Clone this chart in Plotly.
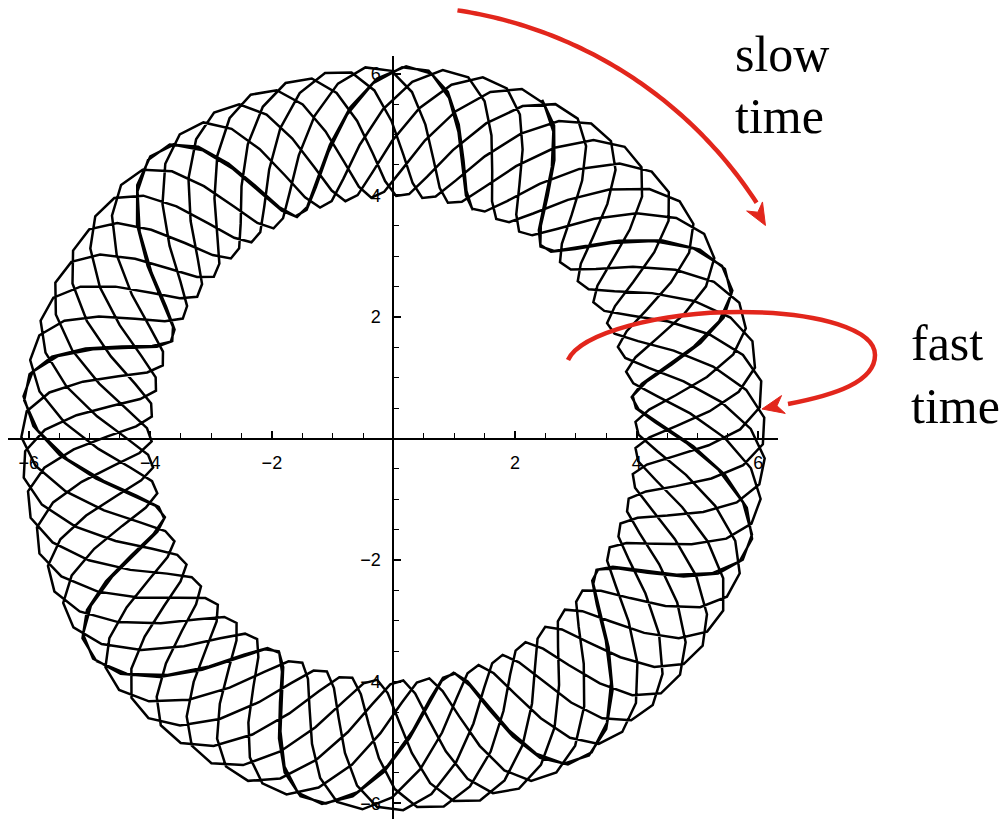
import numpy as np
import plotly.graph_objects as go

# Orbit: slow clockwise drift of the guiding centre around a circle, with a
# fast oscillation about it (radial swing plus a smaller along-track swing)
GUIDE_RADIUS = 5.05       # radius of the slow circular motion
RADIAL_AMP = 1.08         # radial amplitude of the fast oscillation
ALONG_AMP = 0.22          # along-track amplitude of the fast oscillation
ALONG_LAG = 0.5           # phase lag of the along-track swing (rad)
SLOW_TURNS = 8.0          # slow revolutions drawn
FAST_PER_TURN = 8.4296    # fast cycles per slow revolution
SAMPLES_PER_FAST = 12     # coarse sampling per fast cycle (polygonal look)
START_ANGLE = 1.2
FAST_PHASE = 0.3

# Axis ticks
TICK_VALUES = [-6, -4, -2, 2, 4, 6]
TICK_LABELS = ["\u22126", "\u22124", "\u22122", "2", "4", "6"]

X_RANGE = [-6.34, 6.324]
Y_RANGE = [-6.258, 6.291]

n = int(SLOW_TURNS * FAST_PER_TURN * SAMPLES_PER_FAST) + 1
theta = np.linspace(0.0, 2 * np.pi * SLOW_TURNS, n)
psi = FAST_PER_TURN * theta + FAST_PHASE
radial = GUIDE_RADIUS + RADIAL_AMP * np.cos(psi)
along = ALONG_AMP * np.cos(psi - ALONG_LAG)
ang = START_ANGLE - theta - along / GUIDE_RADIUS
x = radial * np.cos(ang)
y = radial * np.sin(ang)

fig = go.Figure()
fig.add_trace(go.Scatter(x=x, y=y, mode="lines",
                         line=dict(color="black", width=2.5),
                         hoverinfo="skip", showlegend=False))


def to_paper(px, py):
    """Convert data coordinates to paper coordinates of the plot area."""
    xp = (np.asarray(px) - X_RANGE[0]) / (X_RANGE[1] - X_RANGE[0])
    yp = (np.asarray(py) - Y_RANGE[0]) / (Y_RANGE[1] - Y_RANGE[0])
    return xp, yp


def polyline_path(px, py):
    xp, yp = to_paper(px, py)
    return "M " + " L ".join(f"{a:.5f},{b:.5f}" for a, b in zip(xp, yp))


def arrow_head(tip, direction, length=0.36, width=0.30):
    tx, ty = tip
    ux, uy = direction
    norm = np.hypot(ux, uy)
    ux, uy = ux / norm, uy / norm
    nx, ny = -uy, ux
    bx, by = tx - length * ux, ty - length * uy
    notch = (tx - 0.7 * length * ux, ty - 0.7 * length * uy)
    pts_x = [tx, bx + width / 2 * nx, notch[0], bx - width / 2 * nx, tx]
    pts_y = [ty, by + width / 2 * ny, notch[1], by - width / 2 * ny, ty]
    return polyline_path(pts_x, pts_y) + " Z"


RED = "#e2261c"

# Slow-time arrow: clockwise arc around the origin
arc_r = 7.12
arc_t = np.radians(np.linspace(81.5, 33.0, 80))
ax_ = arc_r * np.cos(arc_t)
ay_ = arc_r * np.sin(arc_t)
shapes = [
    dict(type="path", xref="paper", yref="paper", path=polyline_path(ax_, ay_),
         line=dict(color=RED, width=4.5)),
]
tip_t = np.radians(29.8)
tip = (7.05 * np.cos(tip_t), 7.05 * np.sin(tip_t))
shapes.append(dict(type="path", xref="paper", yref="paper",
                   path=arrow_head(tip, (np.sin(tip_t) * 1.0, -np.cos(tip_t))),
                   fillcolor=RED, line=dict(color=RED, width=1)))


# Fast-time arrow: a loop drawn as cubic Bezier segments
def px2d(px, py):
    return ((px - 393.5) / 60.8, (438.5 - py) / 60.8)


loop_pts = [(568, 360), (580, 333), (660, 312), (740, 312),
            (820, 312), (875, 330), (875, 355),
            (875, 382), (835, 395), (788, 404)]
dpts = [px2d(a, b) for a, b in loop_pts]
xp, yp = to_paper([p[0] for p in dpts], [p[1] for p in dpts])
path = f"M {xp[0]:.5f},{yp[0]:.5f}"
for i in range(1, len(xp), 3):
    path += (f" C {xp[i]:.5f},{yp[i]:.5f} {xp[i+1]:.5f},{yp[i+1]:.5f}"
             f" {xp[i+2]:.5f},{yp[i+2]:.5f}")
shapes.append(dict(type="path", xref="paper", yref="paper", path=path,
                   line=dict(color=RED, width=4.5)))
ftip = px2d(762, 409)
fdir_from = px2d(800, 401)
shapes.append(dict(type="path", xref="paper", yref="paper",
                   path=arrow_head(ftip, (ftip[0] - fdir_from[0], ftip[1] - fdir_from[1])),
                   fillcolor=RED, line=dict(color=RED, width=1)))

SERIF = "Liberation Serif, Times New Roman, serif"
labels = [("slow", 733, 54), ("time", 733, 116), ("fast", 909, 343), ("time", 909, 406)]
annotations = []
for text, px, py in labels:
    dx, dy = px2d(px, py)
    xp_, yp_ = to_paper(dx, dy)
    annotations.append(dict(text=text, x=float(xp_), y=float(yp_), xref="paper", yref="paper",
                            xanchor="left", yanchor="middle", showarrow=False,
                            font=dict(family=SERIF, size=50, color="black")))

x_axis_pos = (0 - Y_RANGE[0]) / (Y_RANGE[1] - Y_RANGE[0])
y_axis_pos = (0 - X_RANGE[0]) / (X_RANGE[1] - X_RANGE[0])
tick_font = dict(family="Liberation Sans, Arial, sans-serif", size=18, color="black")

fig.update_layout(
    width=1006, height=819,
    margin=dict(l=8, r=228, t=56, b=0),
    paper_bgcolor="white", plot_bgcolor="white",
    shapes=shapes, annotations=annotations,
    xaxis=dict(range=X_RANGE, anchor="free", position=x_axis_pos,
               showline=True, linecolor="black", linewidth=2,
               showgrid=False, zeroline=False,
               tickmode="array", tickvals=TICK_VALUES, ticktext=TICK_LABELS,
               ticks="inside", ticklen=7, tickwidth=1.5, tickcolor="black",
               minor=dict(ticks="inside", dtick=0.5, ticklen=5, tickwidth=1.2,
                          tickcolor="black", showgrid=False),
               ticklabelstandoff=8, tickfont=tick_font),
    yaxis=dict(range=Y_RANGE, anchor="free", position=y_axis_pos,
               showline=True, linecolor="black", linewidth=2,
               showgrid=False, zeroline=False,
               tickmode="array", tickvals=TICK_VALUES, ticktext=TICK_LABELS,
               ticks="inside", ticklen=7, tickwidth=1.5, tickcolor="black",
               minor=dict(ticks="inside", dtick=0.5, ticklen=5, tickwidth=1.2,
                          tickcolor="black", showgrid=False),
               ticklabelstandoff=8, tickfont=tick_font),
)

fig.write_html("out.html")
